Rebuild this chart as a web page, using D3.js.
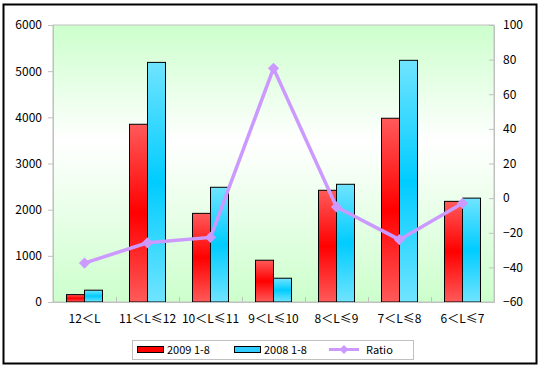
<!DOCTYPE html>
<html><head><meta charset="utf-8">
<script src="https://cdn.jsdelivr.net/npm/d3@7/dist/d3.min.js"></script>
<style>body{margin:0;background:#fff}svg{display:block}text{font-family:"Noto Sans CJK SC","DejaVu Sans",sans-serif;font-size:12px;fill:#000}</style>
</head><body>
<script>
const categories = ["12＜L","11＜L≤12","10＜L≤11","9＜L≤10","8＜L≤9","7＜L≤8","6＜L≤7"];
const series2009 = [160,3850,1920,905,2420,3980,2180];
const series2008 = [256,5190,2485,515,2550,5235,2250];
const ratio = [-37.5,-25.8,-22.7,75,-5.1,-24,-3];
const leftTicks = [0,1000,2000,3000,4000,5000,6000];
const rightTicks = [-60,-40,-20,0,20,40,60,80,100];
const seriesNames = ["2009 1-8","2008 1-8","Ratio"];

const W=539,H=366;
const m={l:53,t:25,r:494,b:302};
const svg=d3.select("body").append("svg").attr("width",W).attr("height",H);
const defs=svg.append("defs");
const bg=defs.append("linearGradient").attr("id","bg").attr("x1",0).attr("y1",0).attr("x2",0).attr("y2",1);
bg.append("stop").attr("offset","0%").attr("stop-color","#ccffcc");
bg.append("stop").attr("offset","42%").attr("stop-color","#ffffff");
bg.append("stop").attr("offset","100%").attr("stop-color","#ccffcc");
function barGrad(id,edge,mid){
  const g=defs.append("linearGradient").attr("id",id).attr("x1",0).attr("y1",0).attr("x2",0).attr("y2",1);
  g.append("stop").attr("offset","0%").attr("stop-color",edge);
  g.append("stop").attr("offset","50%").attr("stop-color",mid);
  g.append("stop").attr("offset","100%").attr("stop-color",edge);
}
barGrad("gr","#ff5a5a","#ff0000");
barGrad("gb","#70e4ff","#00ccff");

svg.append("rect").attr("x",3.5).attr("y",4.5).attr("width",533).attr("height",359).attr("fill","#fff").attr("stroke","#000").attr("stroke-width",2);

const x=d3.scaleBand().domain(categories).range([m.l,m.r]).paddingInner(0).paddingOuter(0);
const yL=d3.scaleLinear().domain([0,6000]).range([m.b,m.t]);
const yR=d3.scaleLinear().domain([-60,100]).range([m.b,m.t]);

svg.append("rect").attr("x",m.l).attr("y",m.t).attr("width",m.r-m.l).attr("height",m.b-m.t).attr("fill","url(#bg)").attr("stroke","#c0c0c0");

const bw=18;
const gB=svg.append("g");
categories.forEach((c,i)=>{
  const cx=x(c)+x.bandwidth()/2;
  gB.append("rect").attr("x",cx-bw).attr("y",yL(series2009[i])).attr("width",bw).attr("height",yL(0)-yL(series2009[i])).attr("fill","url(#gr)").attr("stroke","#000").attr("stroke-width",1);
  gB.append("rect").attr("x",cx).attr("y",yL(series2008[i])).attr("width",bw).attr("height",yL(0)-yL(series2008[i])).attr("fill","url(#gb)").attr("stroke","#000").attr("stroke-width",1);
});

// axes
const la=svg.append("g").attr("transform",`translate(${m.l},0)`).call(d3.axisLeft(yL).tickValues(leftTicks).tickSize(5).tickPadding(6).tickFormat(d3.format("d")));
const ra=svg.append("g").attr("transform",`translate(${m.r},0)`).call(d3.axisRight(yR).tickValues(rightTicks).tickSizeInner(-5).tickSizeOuter(0).tickPadding(9).tickFormat(d3.format("d")));
const xa=svg.append("g").attr("transform",`translate(0,${m.b})`).call(d3.axisBottom(x).tickSize(0).tickPadding(12));
[la,ra,xa].forEach(a=>{a.selectAll("path").attr("stroke","#c0c0c0");a.selectAll("line").attr("stroke","#c0c0c0");a.selectAll("text").attr("font-family",null).attr("font-size",null).style("font-size","12px");});
// category boundary ticks
svg.append("g").selectAll("line").data(categories.slice(1)).join("line")
  .attr("x1",d=>x(d)+0.5).attr("x2",d=>x(d)+0.5).attr("y1",m.b).attr("y2",m.b-5).attr("stroke","#c0c0c0");

// ratio line
const line=d3.line().x((d,i)=>x(categories[i])+x.bandwidth()/2).y(d=>yR(d));
svg.append("path").datum(ratio).attr("d",line).attr("fill","none").attr("stroke","#cc99ff").attr("stroke-width",3.5);
const diamond=d3.symbol().type(d3.symbolDiamond2).size(80);
svg.append("g").selectAll("path").data(ratio).join("path")
  .attr("transform",(d,i)=>`translate(${x(categories[i])+x.bandwidth()/2},${yR(d)})`)
  .attr("d",diamond).attr("fill","#cc99ff");

// legend
const lg=svg.append("g");
lg.append("rect").attr("x",132.5).attr("y",340.5).attr("width",281).attr("height",19).attr("fill","#fff").attr("stroke","#c0c0c0");
lg.append("rect").attr("x",137.5).attr("y",346.5).attr("width",26).attr("height",6).attr("fill","#ff0000").attr("stroke","#000");
lg.append("text").attr("x",167).attr("y",354).style("font-size","11px").text(seriesNames[0]);
lg.append("rect").attr("x",234.5).attr("y",346.5).attr("width",26).attr("height",6).attr("fill","#33ccff").attr("stroke","#000");
lg.append("text").attr("x",264).attr("y",354).style("font-size","11px").text(seriesNames[1]);
lg.append("line").attr("x1",329).attr("x2",359).attr("y1",349.5).attr("y2",349.5).attr("stroke","#cc99ff").attr("stroke-width",3);
lg.append("path").attr("transform","translate(344,349.5)").attr("d",d3.symbol().type(d3.symbolDiamond2).size(50)).attr("fill","#cc99ff");
lg.append("text").attr("x",366).attr("y",354).style("font-size","11px").text(seriesNames[2]);
</script>
</body></html>
